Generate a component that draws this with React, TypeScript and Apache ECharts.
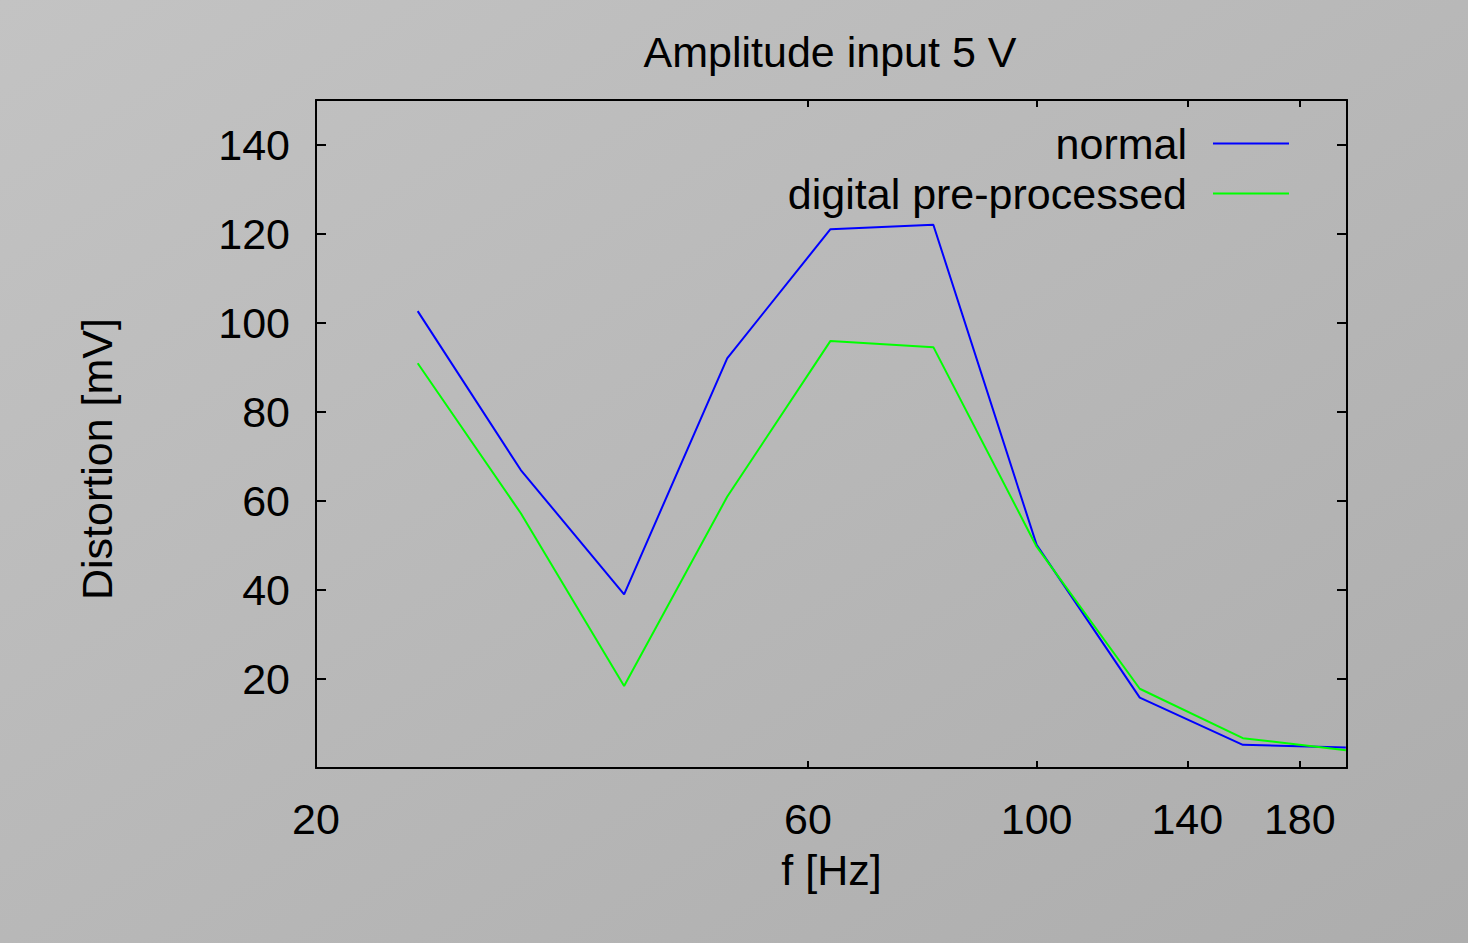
import React, { useEffect, useRef } from "react";
import * as echarts from "echarts";

const frequencies = [25.1, 31.6, 39.8, 50.1, 63.1, 79.4, 100, 125.9, 158.5, 199.5];
const normalValues = [102.6, 66.9, 39.0, 92.0, 121.0, 122.0, 50.1, 15.8, 5.2, 4.6];
const preprocessedValues = [90.9, 57.2, 18.4, 60.9, 95.9, 94.5, 49.7, 17.8, 6.7, 4.0];
const xTickValues = [20, 60, 100, 140, 180];
const yTickValues = [20, 40, 60, 80, 100, 120, 140];
const seriesNames = ["normal", "digital pre-processed"];
const seriesColors = ["#0000ff", "#00ff00"];
const titleText = "Amplitude input 5 V";
const xAxisName = "f [Hz]";
const yAxisName = "Distortion [mV]";

const FONT = "'Liberation Sans', Arial, Helvetica, sans-serif";
const FS = 43;

export default function App() {
  const ref = useRef<HTMLDivElement>(null);

  useEffect(() => {
    if (!ref.current) return;
    const chart = echarts.init(ref.current, null, { renderer: "svg" });

    const axisLine = { show: true, onZero: false, lineStyle: { color: "#000", width: 2 } };
    const textBase = { color: "#000", fontSize: FS, fontFamily: FONT, lineHeight: FS };

    const xCommon = (pos: string, showLabel: boolean) => ({
      type: "log",
      logBase: 10,
      min: 20,
      max: 200,
      position: pos,
      axisLine,
      axisTick: {
        show: true,
        inside: true,
        length: 7,
        customValues: xTickValues,
        lineStyle: { color: "#000", width: 2 },
      },
      minorTick: { show: false },
      splitLine: { show: false },
      minorSplitLine: { show: false },
      axisLabel: {
        show: showLabel,
        customValues: xTickValues,
        margin: 29,
        ...textBase,
      },
    });

    const yCommon = (pos: string, showLabel: boolean) => ({
      type: "value",
      min: 0,
      max: 150,
      position: pos,
      axisLine,
      axisTick: {
        show: true,
        inside: true,
        length: 10,
        customValues: yTickValues,
        lineStyle: { color: "#000", width: 2 },
      },
      splitLine: { show: false },
      axisLabel: {
        show: showLabel,
        customValues: yTickValues,
        margin: 26,
        ...textBase,
      },
    });

    const legendCommon = {
      orient: "vertical",
      align: "right",
      right: 179,
      padding: 0,
      icon: "rect",
      itemWidth: 76,
      itemHeight: 2,
      selectedMode: false,
      textStyle: { ...textBase, padding: [0, 21, 0, 0] },
    };

    chart.setOption({
      animation: false,
      backgroundColor: "transparent",
      title: {
        text: titleText,
        left: 825,
        top: 25,
        textAlign: "center",
        textStyle: { ...textBase, fontWeight: "normal" },
      },
      legend: [
        { ...legendCommon, top: 122, data: [seriesNames[0]] },
        { ...legendCommon, top: 172, data: [seriesNames[1]] },
      ],
      grid: { left: 316, top: 100, width: 1031, height: 668, containLabel: false },
      xAxis: [
        {
          ...xCommon("bottom", true),
          name: xAxisName,
          nameLocation: "middle",
          nameGap: 80,
          nameTextStyle: { ...textBase },
        },
        xCommon("top", false),
      ],
      yAxis: [
        {
          ...yCommon("left", true),
          name: yAxisName,
          nameLocation: "middle",
          nameGap: 198,
          nameRotate: 90,
          nameTextStyle: { ...textBase, padding: [0, 50, 0, 0] },
        },
        yCommon("right", false),
      ],
      series: [
        {
          name: seriesNames[0],
          type: "line",
          xAxisIndex: 0,
          yAxisIndex: 0,
          symbol: "none",
          lineStyle: { color: seriesColors[0], width: 2 },
          itemStyle: { color: seriesColors[0] },
          data: frequencies.map((f, i) => [f, normalValues[i]]),
        },
        {
          name: seriesNames[1],
          type: "line",
          xAxisIndex: 0,
          yAxisIndex: 0,
          symbol: "none",
          lineStyle: { color: seriesColors[1], width: 2 },
          itemStyle: { color: seriesColors[1] },
          data: frequencies.map((f, i) => [f, preprocessedValues[i]]),
        },
      ],
    });

    return () => chart.dispose();
  }, []);

  return (
    <div
      ref={ref}
      style={{
        position: "fixed",
        left: 0,
        top: 0,
        width: 1468,
        height: 943,
        background: "linear-gradient(to bottom right, #c3c3c3, #adadad)",
      }}
    />
  );
}
